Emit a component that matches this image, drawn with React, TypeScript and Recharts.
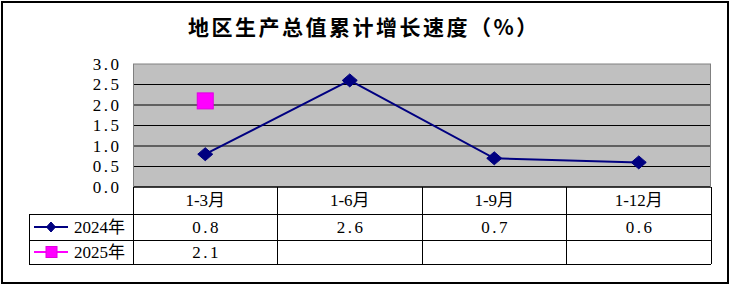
import React from 'react';
import {
  LineChart,
  Line,
  XAxis,
  YAxis,
  CartesianGrid,
  ReferenceLine,
} from 'recharts';

// Reporting periods (cumulative)
const categories = ['1-3月', '1-6月', '1-9月', '1-12月'];
// Cumulative GDP growth, %
const growth2024: (number | null)[] = [0.8, 2.6, 0.7, 0.6];
const growth2025: (number | null)[] = [2.1, null, null, null];
const seriesNames = ['2024年', '2025年'];
const yTicks = [0, 0.5, 1, 1.5, 2, 2.5, 3];
const titleText = '地区生产总值累计增长速度（%）';

const data = categories.map((name, i) => ({
  name,
  y2024: growth2024[i],
  y2025: growth2025[i],
}));

const seriesValues = [growth2024, growth2025];

// Layout
const W = 730;
const H = 285;
const PLOT_LEFT = 133;
const PLOT_RIGHT = 711;
const PLOT_TOP = 64;
const PLOT_BOTTOM = 187;
const Y_AXIS_W = 40;
const X_AXIS_H = 90;
const COL_W = (PLOT_RIGHT - PLOT_LEFT) / categories.length;
const ROW_EDGES = [0, 27, 53, 77];
const LEGEND_COL_W = 104;

const NAVY = '#000080';
const MAGENTA = '#FF00FF';
const FRAME = '#808080';
const NUM_FONT = "'Liberation Serif', 'Noto Sans CJK SC', serif";
const NUM_SIZE = 17;

const fmt = (v: number) => v.toFixed(1);

const Diamond = (cx: number, cy: number, hw: number, hh: number, key?: string) => (
  <path
    key={key}
    d={`M${cx},${cy - hh} L${cx + hw},${cy} L${cx},${cy + hh} L${cx - hw},${cy} Z`}
    fill={NAVY}
    stroke={NAVY}
    strokeWidth={1}
  />
);

const renderDiamondDot = (props: any) => {
  const { cx, cy, index } = props;
  if (cx == null || cy == null || props.value == null) return <g key={`dd-${index}`} />;
  return Diamond(cx, cy, 7.5, 6.5, `dd-${index}`);
};

const renderSquareDot = (props: any) => {
  const { cx, cy, index } = props;
  if (cx == null || cy == null || props.value == null) return <g key={`sd-${index}`} />;
  return (
    <rect
      key={`sd-${index}`}
      x={cx - 8}
      y={cy - 8}
      width={16}
      height={16}
      fill={MAGENTA}
      stroke="#E000E0"
      strokeWidth={1}
    />
  );
};

// Horizontal grid lines: black, except the top edge of the plot frame
const renderGridLine = (props: any) => {
  const { x1, x2, y1, y2, key } = props;
  const isTop = Math.abs(y1 - PLOT_TOP) < 1;
  return (
    <line
      key={key ?? `g-${y1}`}
      x1={x1}
      x2={x2}
      y1={y1}
      y2={y2}
      stroke={isTop ? FRAME : '#000'}
      strokeWidth={1}
    />
  );
};

const YTick = (props: any) => {
  const { x, y, payload } = props;
  return (
    <text
      x={x}
      y={y}
      textAnchor="end"
      dominantBaseline="central"
      fontFamily={NUM_FONT}
      fontSize={NUM_SIZE}
      letterSpacing={2.5}
      fill="#000"
    >
      {fmt(Number(payload.value))}
    </text>
  );
};

// Data table under the plot: one column per category tick
const TableTick = (props: any) => {
  const { x, y, payload, index } = props;
  const i: number = index;
  const left = x - COL_W / 2;
  const right = x + COL_W / 2;
  const rows = ROW_EDGES.map((d) => y + d);
  const mid = (r: number) => (rows[r] + rows[r + 1]) / 2;
  const ln = { stroke: '#000', strokeWidth: 1, shapeRendering: 'crispEdges' as const };
  const els: React.ReactNode[] = [];

  els.push(<line key="vl" x1={left} x2={left} y1={rows[0]} y2={rows[3]} {...ln} />);
  if (i === categories.length - 1) {
    els.push(<line key="vr" x1={right} x2={right} y1={rows[0]} y2={rows[3]} {...ln} />);
  }
  for (let r = 1; r < rows.length; r++) {
    els.push(<line key={`h${r}`} x1={left} x2={right} y1={rows[r]} y2={rows[r]} {...ln} />);
  }

  els.push(
    <text
      key="cat"
      x={x}
      y={mid(0)}
      textAnchor="middle"
      dominantBaseline="central"
      fontFamily={NUM_FONT}
      fontSize={NUM_SIZE}
      fill="#000"
    >
      {payload.value}
    </text>
  );

  seriesValues.forEach((vals, k) => {
    const v = vals[i];
    if (v == null) return;
    els.push(
      <text
        key={`v${k}`}
        x={x + 1.25}
        y={mid(k + 1)}
        textAnchor="middle"
        dominantBaseline="central"
        fontFamily={NUM_FONT}
        fontSize={NUM_SIZE}
        letterSpacing={2.5}
        fill="#000"
      >
        {fmt(v)}
      </text>
    );
  });

  if (i === 0) {
    const lx = left - LEGEND_COL_W;
    els.push(<line key="lv" x1={lx} x2={lx} y1={rows[1]} y2={rows[3]} {...ln} />);
    for (let r = 1; r < rows.length; r++) {
      els.push(<line key={`lh${r}`} x1={lx} x2={left} y1={rows[r]} y2={rows[r]} {...ln} />);
    }
    const iconX1 = lx + 5;
    const iconX2 = lx + 39;
    const iconC = lx + 22;
    const textX = lx + 45;
    // 2024 legend
    const c1 = mid(1);
    els.push(<line key="li1" x1={iconX1} x2={iconX2} y1={c1} y2={c1} stroke={NAVY} strokeWidth={2} />);
    els.push(Diamond(iconC, c1, 4.5, 5, 'ld1'));
    els.push(
      <text key="lt1" x={textX} y={c1} dominantBaseline="central" fontFamily={NUM_FONT} fontSize={NUM_SIZE} fill="#000">
        {seriesNames[0]}
      </text>
    );
    // 2025 legend
    const c2 = mid(2);
    els.push(<line key="li2" x1={iconX1} x2={iconX2} y1={c2} y2={c2} stroke={MAGENTA} strokeWidth={2} />);
    els.push(
      <rect key="ls2" x={iconC - 5} y={c2 - 5.5} width={11} height={11} fill={MAGENTA} stroke="#E000E0" strokeWidth={1} />
    );
    els.push(
      <text key="lt2" x={textX} y={c2} dominantBaseline="central" fontFamily={NUM_FONT} fontSize={NUM_SIZE} fill="#000">
        {seriesNames[1]}
      </text>
    );
  }

  return <g>{els}</g>;
};

export default function App() {
  return (
    <div style={{ position: 'absolute', left: 0, top: 0, width: W, height: H, background: '#fff' }}>
      <div
        style={{
          position: 'absolute',
          left: 1,
          top: 1,
          width: 728,
          height: 283,
          border: '2px solid #000',
          boxSizing: 'border-box',
        }}
      />
      <svg width={W} height={50} style={{ position: 'absolute', left: 0, top: 0 }}>
        <text
          x={188}
          y={34.5}
          fontFamily="'Noto Sans CJK SC', sans-serif"
          fontWeight={700}
          fontSize={21}
          letterSpacing={2.5}
          fill="#000"
        >
          {titleText}
        </text>
      </svg>
      <div style={{ position: 'absolute', left: 0, top: 0 }}>
        <LineChart
          width={W}
          height={H}
          data={data}
          margin={{
            top: PLOT_TOP,
            right: W - PLOT_RIGHT,
            left: PLOT_LEFT - Y_AXIS_W,
            bottom: H - PLOT_BOTTOM - X_AXIS_H,
          }}
        >
          <CartesianGrid
            vertical={false}
            horizontal={renderGridLine}
            stroke="#000"
            strokeWidth={1}
            fill="#C0C0C0"
          />
          <ReferenceLine y={0} stroke="#000" strokeWidth={1} />
          <XAxis
            dataKey="name"
            height={X_AXIS_H}
            axisLine={false}
            tickLine={false}
            tickSize={0}
            tickMargin={0}
            interval={0}
            padding={{ left: COL_W / 2, right: COL_W / 2 }}
            tick={<TableTick />}
          />
          <YAxis
            width={Y_AXIS_W}
            domain={[0, 3]}
            ticks={yTicks}
            interval={0}
            axisLine={false}
            tickLine={false}
            tickSize={0}
            tickMargin={11.5}
            tick={<YTick />}
          />
          <Line
            dataKey="y2024"
            stroke={NAVY}
            strokeWidth={2}
            dot={renderDiamondDot}
            activeDot={false}
            isAnimationActive={false}
          />
          <Line
            dataKey="y2025"
            stroke={MAGENTA}
            strokeWidth={2}
            dot={renderSquareDot}
            activeDot={false}
            isAnimationActive={false}
          />
        </LineChart>
      </div>
      {/* side edges of the plot frame */}
      <svg width={W} height={H} style={{ position: 'absolute', left: 0, top: 0, pointerEvents: 'none' }}>
        <line x1={PLOT_LEFT + 0.5} x2={PLOT_LEFT + 0.5} y1={PLOT_TOP} y2={PLOT_BOTTOM} stroke={FRAME} strokeWidth={1} />
        <line x1={PLOT_RIGHT - 0.5} x2={PLOT_RIGHT - 0.5} y1={PLOT_TOP} y2={PLOT_BOTTOM} stroke={FRAME} strokeWidth={1} />
      </svg>
    </div>
  );
}
